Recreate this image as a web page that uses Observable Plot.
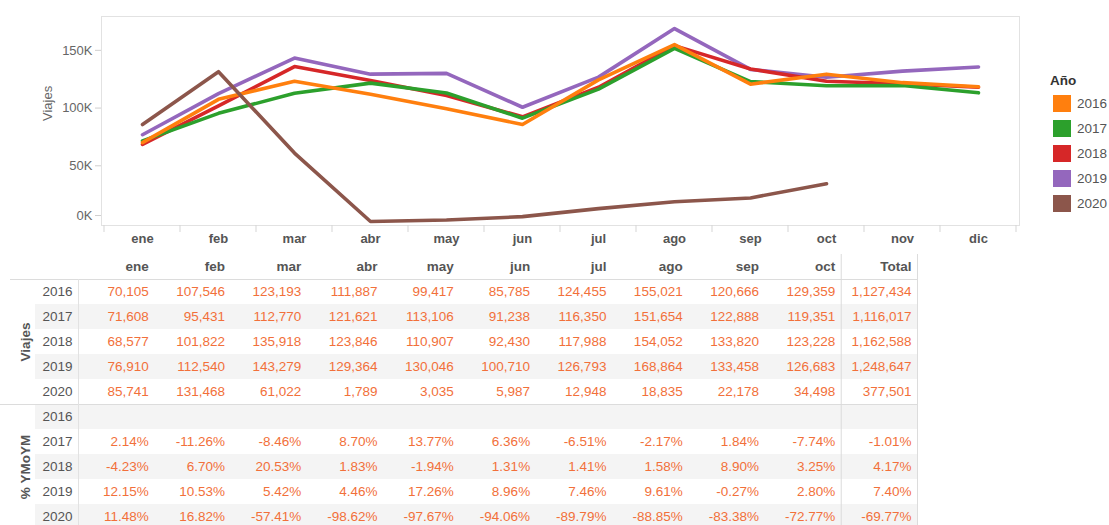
<!DOCTYPE html>
<html>
<head>
<meta charset="utf-8">
<script src="https://cdn.jsdelivr.net/npm/d3@7"></script>
<script src="https://cdn.jsdelivr.net/npm/@observablehq/plot@0.6"></script>
<style>
  html, body { margin: 0; padding: 0; background: #fff; overflow: hidden; }
  body { width: 1109px; height: 525px; position: relative; font-family: "Liberation Sans", Arial, sans-serif; }
  #chart { position: absolute; left: 0; top: 0; }
  #table { position: absolute; left: 0; top: 250px; }
  #legend { position: absolute; left: 1049px; top: 71px; color: #555; font-size: 13.5px; }
  #legend .title { font-weight: bold; color: #333; height: 20px; line-height: 20px; margin-left: 1px; }
  #legend .item { display: flex; align-items: center; height: 25px; }
  #legend .sw { width: 18px; height: 17px; margin-left: 4px; margin-right: 6px; }
</style>
</head>
<body>
<div id="chart"></div>
<div id="legend"></div>
<div id="table"></div>
<script>
// ---- data ----
const months = ["ene","feb","mar","abr","may","jun","jul","ago","sep","oct","nov","dic"];
const years = ["2016","2017","2018","2019","2020"];
const yearColors = ["#ff7f0e","#2ca02c","#d62728","#9467bd","#8c564b"];

const viajes2016 = [70105,107546,123193,111887,99417,85785,124455,155021,120666,129359,122000,118400];
const viajes2017 = [71608,95431,112770,121621,113106,91238,116350,151654,122888,119351,119500,113200];
const viajes2018 = [68577,101822,135918,123846,110907,92430,117988,154052,133820,123228,121000,118000];
const viajes2019 = [76910,112540,143279,129364,130046,100710,126793,168864,133458,126683,132000,135600];
const viajes2020 = [85741,131468,61022,1789,3035,5987,12948,18835,22178,34498,null,null];

const tableColumns = ["ene","feb","mar","abr","may","jun","jul","ago","sep","oct","Total"];
const totals = [1127434,1116017,1162588,1248647,377501];

// % YMoYM (ene..oct, Total)
const ymoym2016 = [null,null,null,null,null,null,null,null,null,null,null];
const ymoym2017 = [2.14,-11.26,-8.46,8.70,13.77,6.36,-6.51,-2.17,1.84,-7.74,-1.01];
const ymoym2018 = [-4.23,6.70,20.53,1.83,-1.94,1.31,1.41,1.58,8.90,3.25,4.17];
const ymoym2019 = [12.15,10.53,5.42,4.46,17.26,8.96,7.46,9.61,-0.27,2.80,7.40];
const ymoym2020 = [11.48,16.82,-57.41,-98.62,-97.67,-94.06,-89.79,-88.85,-83.38,-72.77,-69.77];

const viajesByYear = [viajes2016, viajes2017, viajes2018, viajes2019, viajes2020];
const ymoymByYear = [ymoym2016, ymoym2017, ymoym2018, ymoym2019, ymoym2020];

// ---- line chart ----
const drawOrder = ["2019","2018","2017","2016","2020"];
const lineData = [];
for (const y of drawOrder) {
  const vals = viajesByYear[years.indexOf(y)];
  months.forEach((m, i) => lineData.push({year: y, month: m, value: vals[i]}));
}

const font = '"Liberation Sans", Arial, sans-serif';
const chart = Plot.plot({
  width: 1109,
  height: 250,
  marginLeft: 101,
  marginRight: 90,
  marginTop: 16,
  marginBottom: 25,
  style: {fontFamily: font, fontSize: "13px", background: "transparent", color: "#666"},
  x: {type: "point", domain: months, padding: 0.5},
  y: {domain: [-1700, 179300]},
  color: {domain: years, range: yearColors},
  marks: [
    Plot.frame({stroke: "#e2e2e2"}),
    Plot.axisY({ticks: [50000, 100000, 150000], tickFormat: d => d / 1000 + "K", tickSize: 6, tickPadding: 3, stroke: "#cfcfcf", fill: "#666", label: null}),
    Plot.axisY({ticks: [0], tickFormat: d => d / 1000 + "K", tickSize: 6, tickPadding: 3, stroke: "#cfcfcf", fill: "#666", label: null, dy: -8}),
    Plot.axisX({tickSize: 0, tickPadding: 8, fontWeight: "bold", fill: "#555", label: null}),
    Plot.text(["Viajes"], {frameAnchor: "left", rotate: -90, dx: -54, fill: "#666", fontSize: 13}),
    Plot.line(lineData.filter(d => d.value != null), {x: "month", y: "value", z: "year", stroke: "year", strokeWidth: 3.6, strokeLinejoin: "round", strokeLinecap: "round"})
  ]
});
document.getElementById("chart").appendChild(chart);

// band separators below the x axis, computed from Plot's x scale
{
  const sx = chart.scale("x");
  const step = sx.apply(months[1]) - sx.apply(months[0]);
  const edges = months.map(m => sx.apply(m) - step / 2).concat([sx.apply(months[months.length - 1]) + step / 2]);
  d3.select(chart).append("g")
    .selectAll("line").data(edges).join("line")
    .attr("x1", d => d).attr("x2", d => d)
    .attr("y1", 250 - 25).attr("y2", 250 - 18)
    .attr("stroke", "#d5d5d5");
}

// ---- legend ----
{
  const lg = d3.select("#legend");
  lg.append("div").attr("class", "title").text("Año");
  years.forEach((y, i) => {
    const it = lg.append("div").attr("class", "item");
    it.append("div").attr("class", "sw").style("background", yearColors[i]);
    it.append("span").text(y);
  });
}

// ---- table ----
const numColor = "#f2703a";
const fmtInt = d3.format(",");
const cells = [];
years.forEach((y, yi) => {
  const vals = viajesByYear[yi].slice(0, 10).concat([totals[yi]]);
  vals.forEach((v, ci) => cells.push({row: 1 + yi, col: ci, text: fmtInt(v)}));
  ymoymByYear[yi].forEach((v, ci) => {
    if (v != null) cells.push({row: 6 + yi, col: ci, text: v.toFixed(2) + "%"});
  });
});
const rowLabels = [];
years.forEach((y, yi) => { rowLabels.push({row: 1 + yi, text: y}); rowLabels.push({row: 6 + yi, text: y}); });
const shadedRows = [2, 4, 6, 8, 10];

const table = Plot.plot({
  width: 1109,
  height: 279,
  marginLeft: 78,
  marginRight: 192,
  marginTop: 4,
  marginBottom: 0,
  style: {fontFamily: font, fontSize: "13.5px", background: "transparent"},
  x: {domain: [0, tableColumns.length], axis: null},
  y: {domain: [0, 11], range: [4, 279], axis: null},
  marks: [
    Plot.rect(shadedRows, {x1: 0, x2: tableColumns.length, y1: d => d, y2: d => d + 1, insetLeft: -43, fill: "#f4f4f4"}),
    Plot.ruleY([1], {stroke: "#dcdcdc", insetLeft: -68}),
    Plot.ruleY([6], {stroke: "#dcdcdc", insetLeft: -78}),
    Plot.ruleX([0], {y1: 1, y2: 11, stroke: "#e2e2e2"}),
    Plot.ruleX([tableColumns.length - 1, tableColumns.length], {y1: 0, y2: 11, stroke: "#dcdcdc"}),
    Plot.text(tableColumns, {x: (d, i) => i + 1, y: 0.5, text: d => d, textAnchor: "end", dx: -6, fontWeight: "bold", fill: "#555"}),
    Plot.text(cells, {x: d => d.col + 1, y: d => d.row + 0.5, text: "text", textAnchor: "end", dx: -6, fill: numColor}),
    Plot.text(rowLabels, {x: 0, y: d => d.row + 0.5, text: "text", textAnchor: "end", dx: -6, fill: "#555"}),
    Plot.text(["Viajes", "% YMoYM"], {x: 0, y: (d, i) => (i === 0 ? 3.5 : 8.5), text: d => d, rotate: -90, dx: -53, fontWeight: "bold", fill: "#555"})
  ]
});
document.getElementById("table").appendChild(table);
</script>
</body>
</html>
